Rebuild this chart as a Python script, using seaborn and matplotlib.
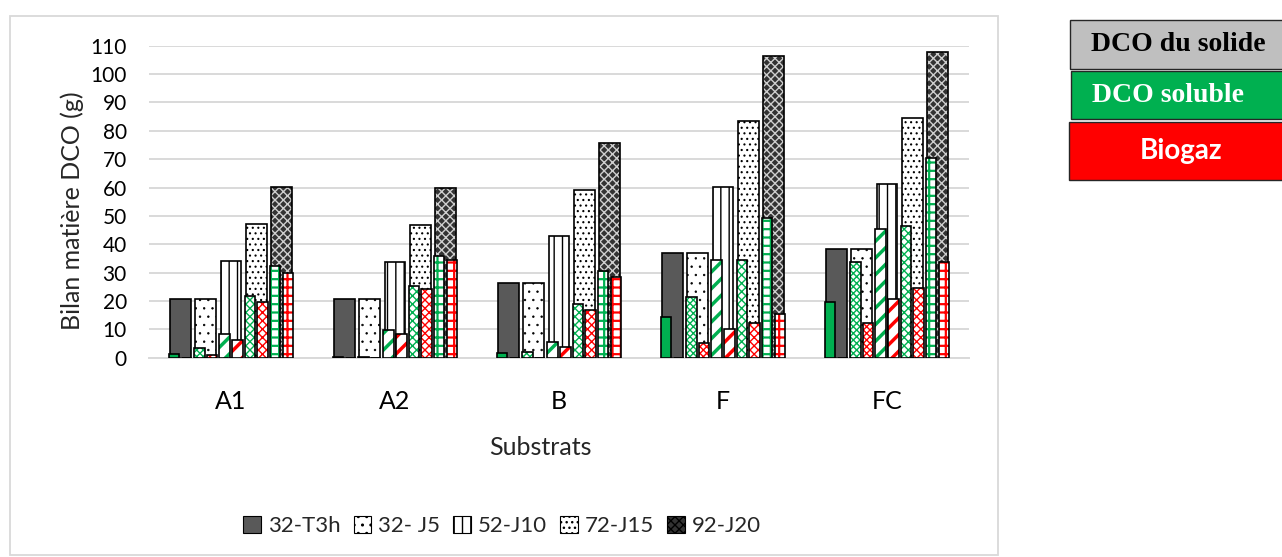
import numpy as np
import pandas as pd
import matplotlib
matplotlib.use('Agg')
import matplotlib.pyplot as plt
import seaborn as sns
from matplotlib.patches import Patch, Rectangle

sns.set_style('white')
plt.rcParams['font.family'] = ['Lato', 'DejaVu Sans']

# ---- données (g DCO) ----
substrats = ['A1', 'A2', 'B', 'F', 'FC']
temps = ['32-T3h', '32- J5', '52-J10', '72-J15', '92-J20']

# DCO totale (barres grises / motifs) : une liste par temps, ordre = substrats
total_t3h = [20.8, 20.7, 26.2, 37.0, 38.3]
total_j5 = [20.8, 20.7, 26.2, 37.0, 38.3]
total_j10 = [34.0, 33.7, 42.9, 60.2, 61.4]
total_j15 = [47.0, 46.7, 59.3, 83.3, 84.6]
total_j20 = [60.2, 59.8, 75.8, 106.5, 107.9]

# DCO soluble (vert)
soluble_t3h = [1.4, 0.3, 1.5, 14.4, 19.6]
soluble_j5 = [3.5, 0.3, 1.9, 21.5, 33.8]
soluble_j10 = [8.2, 9.8, 5.6, 34.6, 45.3]
soluble_j15 = [21.8, 25.4, 18.8, 34.6, 46.5]
soluble_j20 = [32.4, 36.0, 30.6, 49.4, 70.4]

# Biogaz (rouge)
biogaz_t3h = [0.0, 0.0, 0.0, 0.0, 0.0]
biogaz_j5 = [0.8, 0.0, 0.0, 5.1, 12.1]
biogaz_j10 = [6.2, 8.5, 3.6, 10.0, 20.8]
biogaz_j15 = [19.5, 24.1, 16.8, 12.1, 24.6]
biogaz_j20 = [29.7, 34.6, 28.4, 15.4, 33.6]

totals = [total_t3h, total_j5, total_j10, total_j15, total_j20]
solubles = [soluble_t3h, soluble_j5, soluble_j10, soluble_j15, soluble_j20]
biogaz = [biogaz_t3h, biogaz_j5, biogaz_j10, biogaz_j15, biogaz_j20]

df_tot = pd.DataFrame({
    'Substrat': substrats * len(temps),
    'Temps': np.repeat(temps, len(substrats)),
    'DCO': np.concatenate(totals),
})

rows = []
comp_order = []
for t, sol, bio in zip(temps, solubles, biogaz):
    comp_order += [f'{t} soluble', f'{t} biogaz']
    for s, v in zip(substrats, sol):
        rows.append({'Substrat': s, 'Serie': f'{t} soluble', 'DCO': v})
    for s, v in zip(substrats, bio):
        rows.append({'Substrat': s, 'Serie': f'{t} biogaz', 'DCO': v})
df_comp = pd.DataFrame(rows)

# ---- styles ----
GREEN = '#00B050'
RED = '#FF0000'
tot_face = ['#595959', 'white', 'white', 'white', '#333333']
tot_hatch = [None, '..', '||', '...', 'xxxx']
tot_hcol = ['#595959', 'black', 'black', 'black', '#cfcfcf']
tot_hlw = [1.0, 0.5, 1.0, 0.8, 1.0]

comp_hatch = [None, 'xxxxx', '//', 'xxxx', '++']
comp_hlw = [1.0, 1.0, 2.5, 1.0, 1.6]

W, GAP, LW = 0.77, 0.17, 1.2

fig = plt.figure(figsize=(12.82, 5.57), dpi=100)
ax = fig.add_axes([149 / 1282, 1 - 357.7 / 557, 820 / 1282, 312 / 557])


def style_bars(container, face, hatch, hcol, hlw):
    for bar in container:
        bar.set_facecolor(face)
        bar.set_edgecolor(hcol)
        bar.set_hatch(hatch)
        bar.set_linewidth(0)
        if hasattr(bar, 'set_hatch_linewidth'):
            bar.set_hatch_linewidth(hlw)


# DCO totale : remplissage + contour
sns.barplot(data=df_tot, x='Substrat', y='DCO', hue='Temps', order=substrats,
            hue_order=temps, width=W, gap=GAP, errorbar=None, legend=False,
            palette=['#595959'] * 5, ax=ax, zorder=2)
for i, cont in enumerate(ax.containers):
    style_bars(cont, tot_face[i], tot_hatch[i], tot_hcol[i], tot_hlw[i])
n0 = len(ax.containers)
sns.barplot(data=df_tot, x='Substrat', y='DCO', hue='Temps', order=substrats,
            hue_order=temps, width=W, gap=GAP, errorbar=None, legend=False,
            fill=False, palette=['black'] * 5, linewidth=LW, ax=ax, zorder=3)
for cont in ax.containers[n0:]:
    for bar in cont:
        bar.set_edgecolor('black'); bar.set_linewidth(LW)

# DCO soluble / biogaz superposés
n1 = len(ax.containers)
sns.barplot(data=df_comp, x='Substrat', y='DCO', hue='Serie', order=substrats,
            hue_order=comp_order, width=W, gap=GAP, errorbar=None, legend=False,
            palette=['gray'] * 10, ax=ax, zorder=4)
for j, cont in enumerate(ax.containers[n1:]):
    col = GREEN if j % 2 == 0 else RED
    k = j // 2
    face = col if k == 0 else 'white'
    style_bars(cont, face, comp_hatch[k], col, comp_hlw[k])
n2 = len(ax.containers)
sns.barplot(data=df_comp, x='Substrat', y='DCO', hue='Serie', order=substrats,
            hue_order=comp_order, width=W, gap=GAP, errorbar=None, legend=False,
            fill=False, palette=['black'] * 10, linewidth=LW, ax=ax, zorder=5)
for cont in ax.containers[n2:]:
    for bar in cont:
        bar.set_edgecolor('black'); bar.set_linewidth(LW)

# ---- axes ----
ax.set_ylim(0, 110)
ax.set_xlim(-0.5, 4.5)
ax.set_yticks(np.arange(0, 111, 10))
ax.yaxis.grid(True, color='#D9D9D9', linewidth=1.4)
ax.xaxis.grid(False)
ax.set_axisbelow(True)
for side in ['top', 'right', 'left']:
    ax.spines[side].set_visible(False)
ax.spines['bottom'].set_color('#D9D9D9')
ax.spines['bottom'].set_linewidth(1.4)
ax.tick_params(axis='y', length=0, pad=16, labelsize=15, labelcolor='black')
ax.tick_params(axis='x', length=0, pad=23, labelsize=18, labelcolor='black')

ax.set_xlabel('Substrats', fontsize=18)
ax.xaxis.set_label_coords((540 - 149) / 820, -0.25)
ax.set_ylabel('Bilan matière DCO (g)', fontsize=18)
ax.yaxis.set_label_coords(-0.079, 0.47)

# légende des temps (motifs)
handles = [Patch(facecolor=tot_face[i], edgecolor='black', hatch=tot_hatch[i],
                 linewidth=0.8, label=temps[i]) for i in range(5)]
fig.legend(handles=handles, loc='center', ncol=5, frameon=False,
           bbox_to_anchor=(502 / 1282, 1 - 526 / 557), fontsize=16,
           handlelength=0.8, handleheight=0.8, handletextpad=0.3,
           columnspacing=0.6)

# cadre du graphique
fig.patches.append(Rectangle((10 / 1282, 2 / 557), 988 / 1282, 539 / 557,
                             transform=fig.transFigure, fill=False,
                             edgecolor='#D9D9D9', linewidth=1.3))

# encadrés : composantes
boxes = [
    ('DCO du solide', '#BFBFBF', 'black', 1070, 20, 69, 1178, ['Liberation Serif'], 20),
    ('DCO soluble', GREEN, 'white', 1071, 70.7, 119.3, 1168, ['Liberation Serif'], 20),
    ('Biogaz', RED, 'white', 1069, 122.3, 180, 1181, ['Lato', 'DejaVu Sans'], 20),
]
for txt, bg, fg, x0, ytop, ybot, xc, fam, fs in boxes:
    fig.patches.append(Rectangle((x0 / 1282, 1 - ybot / 557), (1290 - x0) / 1282,
                                 (ybot - ytop) / 557, transform=fig.transFigure,
                                 facecolor=bg, edgecolor='#262626', linewidth=1.0))
    fig.text(xc / 1282, 1 - (ytop + ybot) / 2 / 557, txt, color=fg, fontsize=fs,
             fontweight='bold', family=fam, ha='center', va='center')

fig.savefig('out.png', dpi=100)
